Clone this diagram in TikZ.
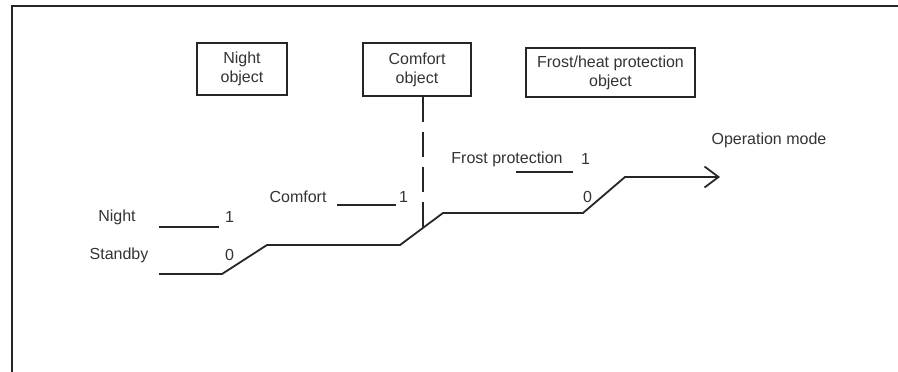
\documentclass[tikz,border=0pt]{standalone}
\usepackage{fontspec}
\setmainfont{Liberation Sans}
\usetikzlibrary{arrows.meta}

\tikzset{
  objbox/.style={draw=black!85, line width=1.7pt, align=center, inner sep=0pt,
    font=\fontsize{16}{19}\selectfont, text=black!80},
  lbl/.style={inner sep=0pt, font=\fontsize{16}{19}\selectfont, text=black!80},
  sig/.style={line width=1.8pt, black!85},
}

\begin{document}
\begin{tikzpicture}[x=1pt,y=-1pt]
\useasboundingbox (0,0) rectangle (898,372);
\draw[line width=2.4pt, black!85] (12,372) -- (12,6) -- (898,6);
% object boxes
\node[objbox, minimum width=90pt, minimum height=52pt] (nightobj) at (242,69) {Night\\object};
\node[objbox, minimum width=108pt, minimum height=53pt] (comfortobj) at (417,69.5) {Comfort\\object};
\node[objbox, minimum width=169pt, minimum height=49pt] (frostobj) at (610.5,72.5) {Frost/heat protection\\object};
% levels
\node[lbl] (night) at (117,217) {Night};
\node[lbl] (nightone) at (229.5,217) {1};
\node[lbl] (standby) at (119,255) {Standby};
\node[lbl] (standbyzero) at (229.5,255) {0};
\node[lbl] (comfort) at (298,197) {Comfort};
\node[lbl] (comfortone) at (403.5,197) {1};
\node[lbl] (frost) at (507,159) {Frost protection};
\node[lbl] (frostone) at (585.5,159) {1};
\node[lbl] (frostzero) at (587.5,197) {0};
\node[lbl] (opmode) at (769,140) {Operation mode};
\draw[sig] (159,227) -- (219,227);
\draw[sig] (337,205) -- (396,205);
\draw[sig] (516,172) -- (573,172);
% operation mode line
\coordinate (s0) at (159,274);
\coordinate (s1) at (222,274);
\coordinate (s2) at (267,245);
\coordinate (s3) at (400,245);
\coordinate (s4) at (443,213);
\coordinate (s5) at (583,213);
\coordinate (s6) at (625,177);
\coordinate (s7) at (720,177);
\coordinate (tap) at (423,228);
\draw[sig, line join=miter, -{Straight Barb[length=14pt,width=21pt]}]
  (s0) -- (s1) -- (s2) -- (s3) -- (s4) -- (s5) -- (s6) -- (s7);
\draw[sig, dash pattern=on 25pt off 10pt] (comfortobj.south -| tap) -- (tap);
\end{tikzpicture}
\end{document}
